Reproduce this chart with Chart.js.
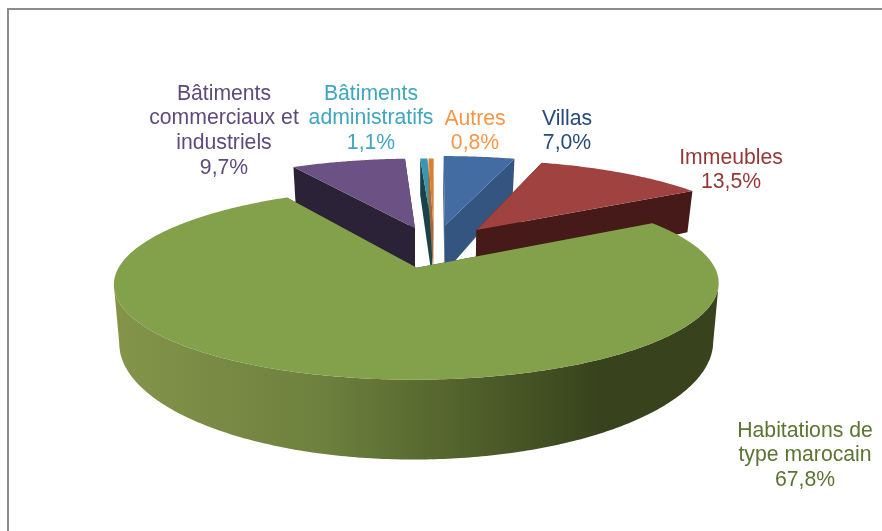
<!DOCTYPE html>
<html>
<head>
<meta charset="utf-8">
<style>html,body{margin:0;padding:0;background:#fff}canvas{display:block}</style>
<script src="https://cdn.jsdelivr.net/npm/chart.js@4"></script>
</head>
<body>
<canvas id="c" width="882" height="531"></canvas>
<script>
// Data
const categories = ['Villas','Immeubles','Habitations de type marocain','Bâtiments commerciaux et industriels','Bâtiments administratifs','Autres'];
const shares = [7.0,13.5,67.8,9.7,1.1,0.8];
const labelLines = [['Villas'],['Immeubles'],['Habitations de','type marocain'],['Bâtiments','commerciaux et','industriels'],['Bâtiments','administratifs'],['Autres']];

// Styles
const topColors  = ['#426ca2','#9f4240','#83a04a','#6b5184','#3a97b0','#d9812f'];
const sideColors = ['#335580','#451a18','#38431d','#2b2238','#1a4348','#a56a3c'];
const textColors = ['#254a7c','#953735','#5c7431','#5f4a7b','#3fa6bf','#f79646'];
const sliceOffsets = [0.22,0.25,0.26,0.21,0.21,0.21];
const sliceNudges = [[3,-1.5],[0,1],[-0.5,0],[0,0],[3,0.5],[2,0.5]];
const labelAnchors = [[567,119],[731,158],[805,431],[224,94],[371,94],[475,119]];
const paintOrder = [3,4,5,0,1,2];

// Projection of the pie plane to the screen
const P = {cx:432.5, cy:245, A:286, B:85.8, k:0.16, D:51, squeezeR:0.52, squeezeL:0.84, tweakR:0.06, tweakL:-0.14, offSqueeze:0.7, narrow:0.982};

function warp(theta, c){           // clock angle -> plane angle
  return Math.atan2(c*Math.sin(theta), Math.cos(theta));
}
function unwrap(theta){
  const right = theta < Math.PI;
  let a = warp(theta, right ? P.squeezeR : P.squeezeL);
  if (a < 0) a += 2*Math.PI;
  a += (right ? P.tweakR : P.tweakL) * Math.sin(3*theta);
  return a;
}
function proj(u, v){
  const w = 1 - P.k*v;
  return {x:P.cx + P.A*u/w, y:P.cy + P.B*v/w, w};
}
function low(p){
  return {x:P.cx - 17 + (p.x - P.cx + 17)*P.narrow, y:p.y + P.D/(p.w*p.w)};
}
function path(ctx, pts){
  ctx.beginPath();
  pts.forEach((p,i)=> i ? ctx.lineTo(p.x,p.y) : ctx.moveTo(p.x,p.y));
  ctx.closePath();
}
const pie3d = {
  id:'pie3d',
  beforeDraw(chart){
    const ctx = chart.ctx;
    ctx.save();
    ctx.strokeStyle = '#8c8c8c';
    ctx.lineWidth = 2;
    ctx.beginPath();
    ctx.moveTo(8, 531); ctx.lineTo(8, 9); ctx.lineTo(882, 9);
    ctx.stroke();
    ctx.restore();
  },
  beforeDatasetDraw(){ return false; },
  afterDatasetsDraw(chart){
    const ctx = chart.ctx;
    const arcs = chart.getDatasetMeta(0).data;
    ctx.save();
    paintOrder.forEach(i=>{
      const a = arcs[i];
      const t0 = a.startAngle + Math.PI/2, t1 = a.endAngle + Math.PI/2;
      const mid = warp((t0+t1)/2, P.offSqueeze);
      const ou = sliceOffsets[i]*Math.sin(mid), ov = -sliceOffsets[i]*Math.cos(mid);
      const apex = proj(ou, ov);
      const n = Math.max(2, Math.ceil((t1-t0)*90));
      const rim = [];
      const f0 = unwrap(t0 + 1e-6);
      let f1 = unwrap(t1 - 1e-6);
      if (f1 < f0) f1 += 2*Math.PI;
      for (let j=0;j<=n;j++){
        const f = f0 + (f1-f0)*j/n;
        rim.push(proj(ou + Math.sin(f), ov - Math.cos(f)));
      }
      ctx.save();
      ctx.translate(sliceNudges[i][0], sliceNudges[i][1]);
      // cut faces, hidden one first
      const ends = [rim[0], rim[rim.length-1]].sort((p,q)=>p.y-q.y);
      ctx.fillStyle = sideColors[i];
      ends.forEach(e=>{
        path(ctx,[apex,e,low(e),low(apex)]);
        ctx.fill();
      });
      // outer wall, only where it faces the viewer
      const front = [];
      rim.forEach((p,j)=>{
        const q = rim[Math.min(j+1,rim.length-1)], r = rim[Math.max(j-1,0)];
        if (q.x < r.x) front.push(p);
      });
      if (front.length > 1){
        const g = ctx.createLinearGradient(113,0,718,0);
        g.addColorStop(0, i===2 ? '#84944a' : sideColors[i]);
        g.addColorStop(0.35, i===2 ? '#6d803e' : sideColors[i]);
        g.addColorStop(0.6, i===2 ? '#4f5f2a' : sideColors[i]);
        g.addColorStop(0.8, sideColors[i]);
        g.addColorStop(1, sideColors[i]);
        ctx.fillStyle = g;
        path(ctx, front.concat(front.slice().reverse().map(low)));
        ctx.fill();
      }
      // top face
      ctx.fillStyle = a.options.backgroundColor;
      path(ctx,[apex].concat(rim));
      ctx.fill();
      ctx.restore();
    });
    // labels
    ctx.font = '21.2px "Liberation Sans", Arial, sans-serif';
    ctx.textAlign = 'center';
    ctx.textBaseline = 'middle';
    const lh = 24.6;
    categories.forEach((c,i)=>{
      const pct = shares[i].toFixed(1).replace('.',',') + '%';
      ctx.fillStyle = textColors[i];
      labelLines[i].concat([pct]).forEach((s,j)=>{
        ctx.fillText(s, labelAnchors[i][0], labelAnchors[i][1] + j*lh);
      });
    });
    ctx.restore();
  }
};
new Chart(document.getElementById('c'),{
  type:'pie',
  data:{labels:categories,datasets:[{data:shares,backgroundColor:topColors,borderWidth:0}]},
  options:{
    responsive:false,animation:false,
    plugins:{legend:{display:false},tooltip:{enabled:false}}
  },
  plugins:[pie3d]
});
</script>
</body>
</html>
